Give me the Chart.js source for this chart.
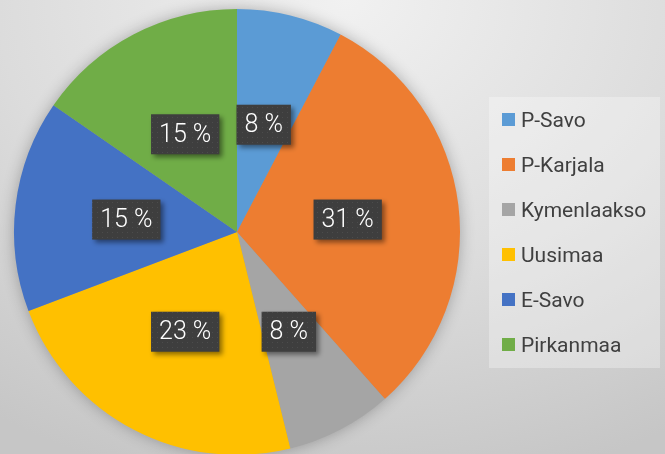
<!DOCTYPE html>
<html>

<head>
    <script src="https://cdn.jsdelivr.net/npm/chart.js"></script>
    <style>
        html, body { margin: 0; padding: 0; overflow: hidden; }
        #wrapper {
            width: 665px;
            height: 454px;
            overflow: hidden;
            background: radial-gradient(ellipse 95% 110% at 52% 0%, #f1f1f1 0%, #dcdcdc 55%, #c6c6c6 100%);
        }
    </style>
</head>

<body>
    <div id="wrapper">
        <canvas id="pie" width="665" height="470"></canvas>
    </div>
</body>

</html>

<script>
    // counts per region (shown as percent of total)
    var regions = ['P-Savo', 'P-Karjala', 'Kymenlaakso', 'Uusimaa', 'E-Savo', 'Pirkanmaa'];
    var counts = [1, 4, 1, 3, 2, 2];
    var colors = ['#5B9BD5', '#ED7D31', '#A5A5A5', '#FFC000', '#4472C4', '#70AD47'];

    var total = counts.reduce(function (a, b) { return a + b; }, 0);

    // dotted fill for the label boxes
    var dots = document.createElement('canvas');
    dots.width = 5;
    dots.height = 5;
    var dctx = dots.getContext('2d');
    dctx.fillStyle = '#3e3e3e';
    dctx.fillRect(0, 0, 5, 5);
    dctx.fillStyle = '#4c4c4c';
    dctx.fillRect(2, 2, 1, 1);

    var pieShadow = {
        id: 'pieShadow',
        beforeDatasetsDraw: function (chart) {
            var arc = chart.getDatasetMeta(0).data[0];
            if (!arc) return;
            var ctx = chart.ctx;
            ctx.save();
            ctx.shadowColor = 'rgba(0,0,0,0.3)';
            ctx.shadowBlur = 16;
            ctx.fillStyle = '#999';
            ctx.beginPath();
            ctx.arc(arc.x, arc.y, arc.outerRadius - 1, 0, Math.PI * 2);
            ctx.fill();
            ctx.restore();
        }
    };

    var pctLabels = {
        id: 'pctLabels',
        afterDatasetsDraw: function (chart) {
            var ctx = chart.ctx;
            var arcs = chart.getDatasetMeta(0).data;
            ctx.save();
            ctx.font = '300 25px Roboto';
            ctx.textAlign = 'center';
            ctx.textBaseline = 'middle';
            arcs.forEach(function (arc, i) {
                var p = arc.tooltipPosition();
                var txt = Math.round(counts[i] / total * 100) + ' %';
                var w = ctx.measureText(txt).width + 16;
                var h = 40;
                ctx.save();
                ctx.shadowColor = 'rgba(0,0,0,0.45)';
                ctx.shadowBlur = 5;
                ctx.shadowOffsetX = 3;
                ctx.shadowOffsetY = 3;
                ctx.fillStyle = ctx.createPattern(dots, 'repeat');
                ctx.fillRect(p.x - w / 2, p.y - h / 2 + 1, w, h);
                ctx.restore();
                ctx.fillStyle = '#ffffff';
                ctx.fillText(txt, p.x, p.y + 2);
            });
            ctx.restore();
        }
    };

    var boxLegend = {
        id: 'boxLegend',
        afterDraw: function (chart) {
            var ctx = chart.ctx;
            ctx.save();
            ctx.fillStyle = 'rgba(255,255,255,0.3)';
            ctx.fillRect(489, 97, 171, 271);
            ctx.font = '21px Roboto';
            ctx.textBaseline = 'alphabetic';
            regions.forEach(function (name, i) {
                var cy = 119 + i * 45;
                ctx.fillStyle = colors[i];
                ctx.fillRect(502, cy - 6, 13, 13);
                ctx.fillStyle = '#404040';
                ctx.fillText(name, 521, cy + 8);
            });
            ctx.restore();
        }
    };

    new Chart('pie', {
        type: 'pie',
        data: {
            labels: regions,
            datasets: [{
                data: counts,
                backgroundColor: colors,
                borderWidth: 0
            }]
        },
        options: {
            responsive: false,
            animation: false,
            layout: {
                padding: { left: 14, right: 205, top: 9, bottom: 15 }
            },
            plugins: {
                legend: { display: false },
                tooltip: { enabled: false }
            }
        },
        plugins: [pieShadow, pctLabels, boxLegend]
    });
</script>
